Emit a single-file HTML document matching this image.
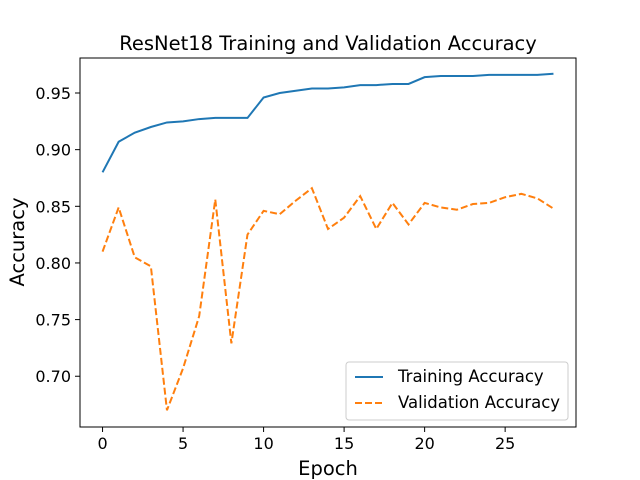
<!DOCTYPE html>
<html><head><meta charset="utf-8"><style>
body{margin:0;background:#fff;}
svg{display:block;font-family:"DejaVu Sans","Liberation Sans",sans-serif;}
</style></head><body>
<svg id="chart" width="640" height="480" xmlns="http://www.w3.org/2000/svg">
<rect width="640" height="480" fill="#fff"/>
<text x="328" y="50" font-size="19.5" text-anchor="middle">ResNet18 Training and Validation Accuracy</text>
<g id="marks"></g>
<rect x="80" y="58" width="496" height="369" fill="none" stroke="#000" stroke-width="1"/>
<text x="328" y="475" font-size="19.5" text-anchor="middle">Epoch</text>
<text transform="translate(24,242) rotate(-90)" font-size="19.5" text-anchor="middle">Accuracy</text>
<g>
<rect x="346" y="362" width="222" height="58" rx="3" fill="#fff" fill-opacity="0.8" stroke="#ccc"/>
<line x1="355" y1="377" x2="383" y2="377" stroke="#1f77b4" stroke-width="2"/>
<text x="398" y="382" font-size="16.5">Training Accuracy</text>
<line x1="355" y1="403" x2="383" y2="403" stroke="#ff7f0e" stroke-width="2" stroke-dasharray="7,3"/>
<text x="398" y="408" font-size="16.5">Validation Accuracy</text>
</g>
</svg>
<script>
const epochs = [0,1,2,3,4,5,6,7,8,9,10,11,12,13,14,15,16,17,18,19,20,21,22,23,24,25,26,27,28];
const trainAcc = [0.880,0.907,0.915,0.920,0.924,0.925,0.927,0.928,0.928,0.928,0.946,0.950,0.952,0.954,0.954,0.955,0.957,0.957,0.958,0.958,0.964,0.965,0.965,0.965,0.966,0.966,0.966,0.966,0.967];
const valAcc = [0.810,0.849,0.805,0.797,0.670,0.707,0.753,0.856,0.729,0.825,0.846,0.843,0.855,0.866,0.830,0.840,0.859,0.830,0.853,0.834,0.853,0.849,0.847,0.852,0.853,0.858,0.861,0.857,0.848];
const xTicks = [0,5,10,15,20,25];
const yTicks = [0.70,0.75,0.80,0.85,0.90,0.95];
const NS="http://www.w3.org/2000/svg";
const xMin=-1.4,xMax=29.4,yMin=0.6552,yMax=0.9809;
const L=80,R=576,T=58,B=427;
const sx=v=>L+(v-xMin)/(xMax-xMin)*(R-L);
const sy=v=>B-(v-yMin)/(yMax-yMin)*(B-T);
const g=document.getElementById('marks');
function mk(tag,attrs){const e=document.createElementNS(NS,tag);for(const k in attrs)e.setAttribute(k,attrs[k]);g.appendChild(e);return e;}
xTicks.forEach(t=>{
  const l=mk('line',{x1:sx(t),x2:sx(t),y1:B,y2:B+5,stroke:'#000'});
  
  
  const tx=mk('text',{x:sx(t),y:B+22,'font-size':16,'text-anchor':'middle'});
  tx.textContent=t;
  
  
});
yTicks.forEach(t=>{
  const l=mk('line',{x1:L-5,x2:L,y1:sy(t),y2:sy(t),stroke:'#000'});
  
  
  const tx=mk('text',{x:L-9,y:sy(t)+6,'font-size':16,'text-anchor':'end'});
  tx.textContent=t.toFixed(2);
  
  
});
const p1=mk('polyline',{points:epochs.map((e,i)=>sx(e)+','+sy(trainAcc[i])).join(' '),fill:'none',stroke:'#1f77b4','stroke-width':2});


const p2=mk('polyline',{points:epochs.map((e,i)=>sx(e)+','+sy(valAcc[i])).join(' '),fill:'none',stroke:'#ff7f0e','stroke-width':2,'stroke-dasharray':'7,3'});


</script>
</body></html>
